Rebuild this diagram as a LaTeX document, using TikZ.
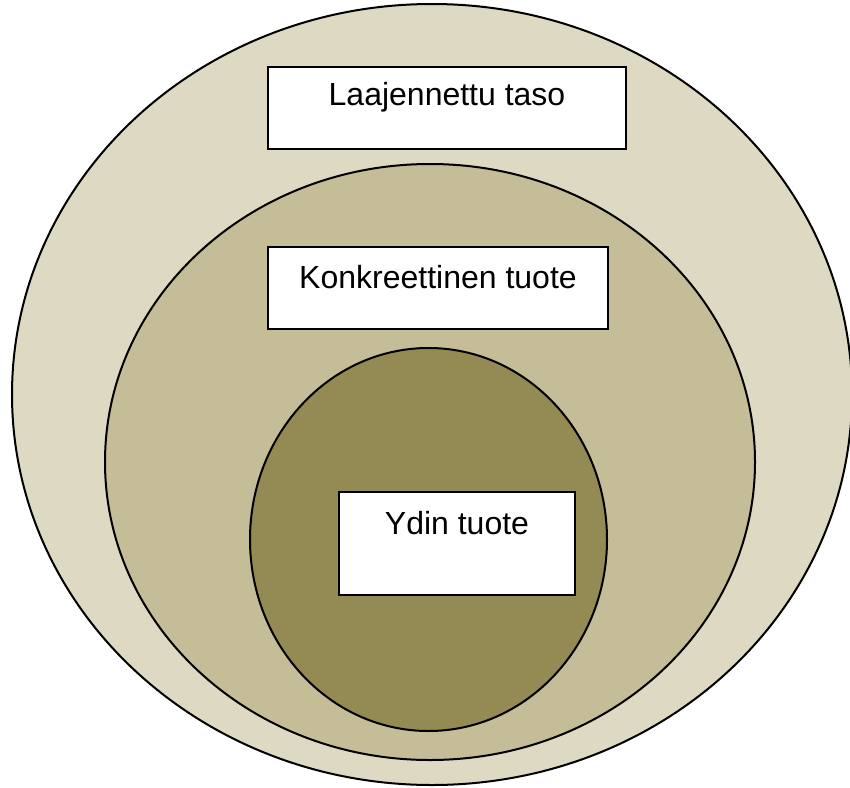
\documentclass[tikz,border=0pt]{standalone}
\usepackage{fontspec}
\setmainfont{Liberation Sans}
\usetikzlibrary{shapes.geometric}
\definecolor{levelA}{HTML}{DDD9C3}
\definecolor{levelB}{HTML}{C4BD97}
\definecolor{levelC}{HTML}{948A54}
\begin{document}
\begin{tikzpicture}[x=1pt,y=-1pt,
  ring/.style={ellipse,draw=black,line width=2pt,inner sep=0pt},
  labelbox/.style={rectangle,draw=black,fill=white,line width=1.5pt,inner sep=0pt},
  caption/.style={font=\fontsize{32}{36}\selectfont,anchor=center,inner sep=0pt}]
  \useasboundingbox (0,0) rectangle (850,787);
  % nested levels of the product
  \node[ring,fill=levelA,minimum width=840pt,minimum height=781pt] (outer) at (432,394.5) {};
  \node[ring,fill=levelB,minimum width=650pt,minimum height=596pt] (middle) at (430,462) {};
  \node[ring,fill=levelC,minimum width=357pt,minimum height=383pt] (inner) at (428.5,539.5) {};
  % label boxes
  \node[labelbox,minimum width=358pt,minimum height=82pt] (boxA) at (447,108) {};
  \node[labelbox,minimum width=340pt,minimum height=82pt] (boxB) at (438,288) {};
  \node[labelbox,minimum width=236pt,minimum height=103pt] (boxC) at (457,543.5) {};
  \node[caption] (txtA) at ([yshift=-31pt]boxA.north) {Laajennettu taso};
  \node[caption] (txtB) at ([yshift=-31pt]boxB.north) {Konkreettinen tuote};
  \node[caption] (txtC) at ([yshift=-32pt]boxC.north) {Ydin tuote};
\end{tikzpicture}
\end{document}
